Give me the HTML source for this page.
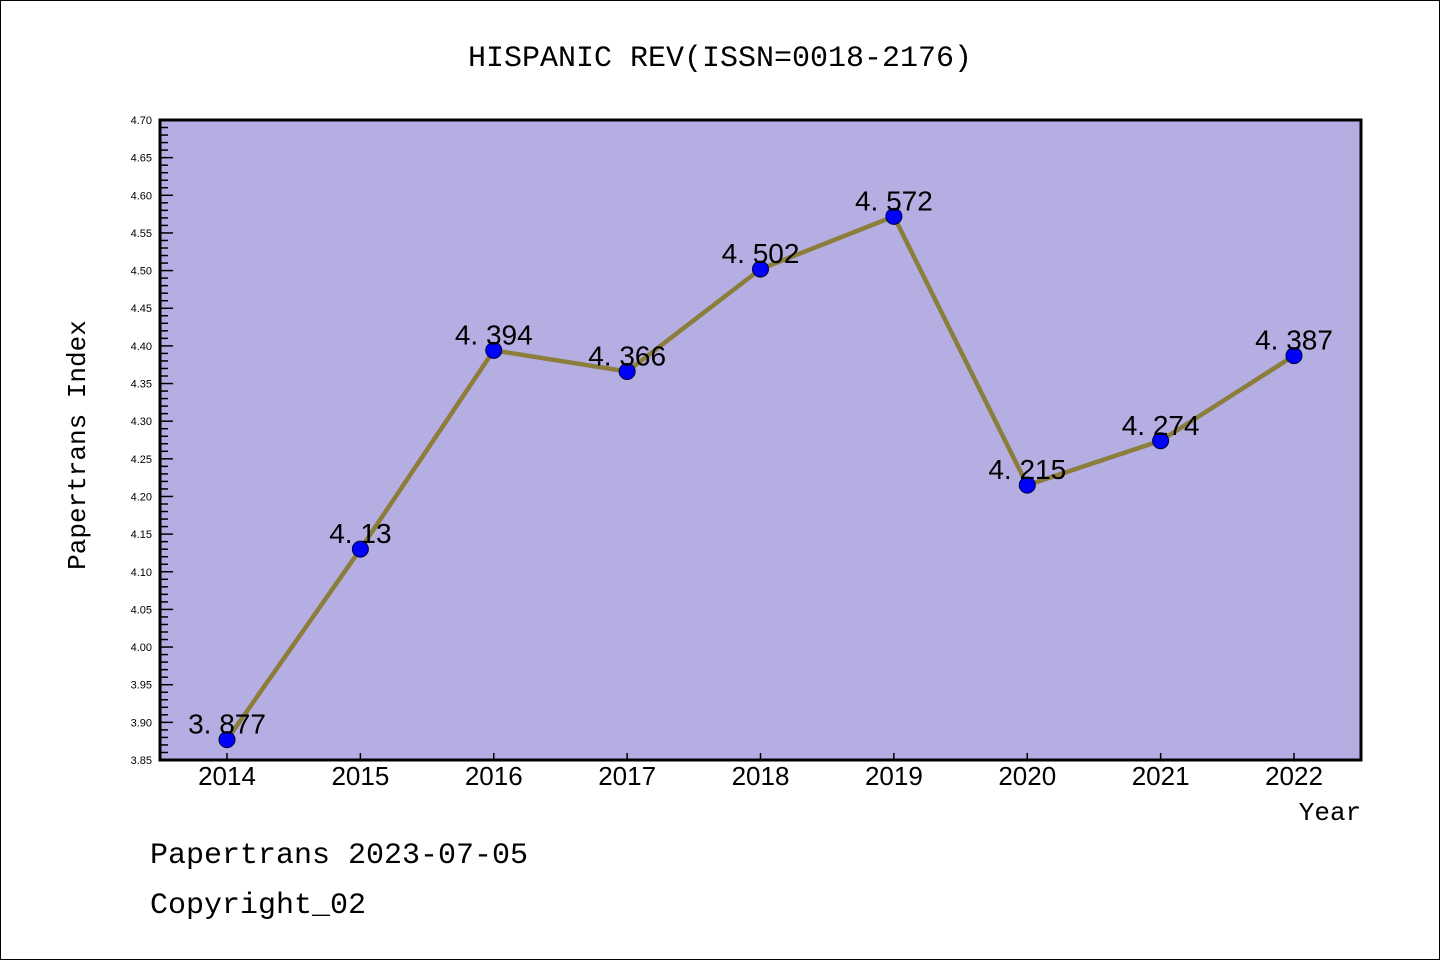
<!DOCTYPE html>
<html><head><meta charset="utf-8"><style>
body{margin:0;background:#fff}
svg{display:block;font-family:"Liberation Mono","Noto Sans CJK SC",monospace}
</style></head><body>
<svg width="1440" height="960" viewBox="0 0 1440 960">
<rect x="0.5" y="0.5" width="1439" height="959" fill="#fff" stroke="#000"/>
<text x="720" y="66" font-size="30" text-anchor="middle">HISPANIC REV(ISSN=0018-2176)</text>
<rect x="160" y="120" width="1201" height="640" fill="#b5aee2"/>
<g id="ticks"></g>
<g id="series"></g>
<rect x="160" y="120" width="1201" height="640" fill="none" stroke="#000" stroke-width="3"/>
<text x="1330" y="820" font-size="26" text-anchor="middle">Year</text>
<text transform="translate(85,445) rotate(-90)" font-size="26" text-anchor="middle">Papertrans Index</text>
<text x="150" y="863" font-size="30">Papertrans 2023-07-05</text>
<text x="150" y="913" font-size="30">Copyright_02</text>
</svg>
<script>
const years=["2014","2015","2016","2017","2018","2019","2020","2021","2022"];
const values=[3.877,4.13,4.394,4.366,4.502,4.572,4.215,4.274,4.387];
const valueLabels=["3. 877","4. 13","4. 394","4. 366","4. 502","4. 572","4. 215","4. 274","4. 387"];
const yMin=3.85,yMax=4.70;
const NS="http://www.w3.org/2000/svg";
function x(i){return 227+i*(1294-227)/(years.length-1);}
function y(v){return 760-(v-yMin)/(yMax-yMin)*640;}
function mk(t,a,p){const e=document.createElementNS(NS,t);for(const k in a)e.setAttribute(k,a[k]);p.appendChild(e);return e;}
const tg=document.getElementById('ticks'),sg=document.getElementById('series');
for(let k=0;k<=85;k++){
  const v=yMin+k*0.01,yy=y(v),major=k%5===0;
  const t=mk('line',{x1:160,x2:major?173:168,y1:yy,y2:yy,stroke:'#000','stroke-width':1.5},tg);
  
  
  if(major){const l=mk('text',{x:152,y:yy+4,'font-size':11,'text-anchor':'end','font-family':'Liberation Sans, sans-serif'},tg);l.textContent=v.toFixed(2);
  
  }
}
years.forEach((yr,i)=>{
  const t=mk('line',{x1:x(i),x2:x(i),y1:760,y2:753,stroke:'#000','stroke-width':1.5},tg);
  
  
  const l=mk('text',{x:x(i),y:785,'font-size':26,'text-anchor':'middle','font-family':'Liberation Sans, sans-serif'},tg);l.textContent=yr;
  
  
});
const line=mk('polyline',{points:values.map((v,i)=>x(i)+','+y(v)).join(' '),fill:'none',stroke:'#8b7d3a','stroke-width':4.5},sg);


values.forEach((v,i)=>{
  const c=mk('circle',{cx:x(i),cy:y(v),r:8,fill:'#0000ff',stroke:'#000033','stroke-width':1},sg);
  
  
  const l=mk('text',{x:x(i),y:y(v)-6,'font-size':28,'text-anchor':'middle','font-family':'Liberation Sans, sans-serif'},sg);l.textContent=valueLabels[i];
  
  
});
</script>
</body></html>
